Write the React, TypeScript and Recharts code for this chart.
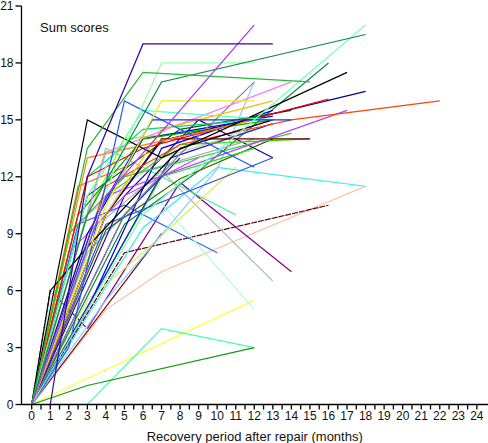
import React from "react";
import { LineChart, Line, XAxis, YAxis } from "recharts";

// recovery curves: [month, sum score]
const s01 = [[0, 0], [1, 0], [3, 12], [6, 19], [13, 19]];
const s02 = [[0, 0], [4, 11], [12, 20]];
const s03 = [[0, 0], [3, 13.5], [6, 17.5], [15, 17]];
const s04 = [[0, 0], [3, 10], [7, 17], [18, 19.5]];
const s05 = [[0, 0], [4.5, 12.5], [7, 18], [12, 18]];
const s06 = [[0, 0], [6, 10], [18, 20]];
const s07 = [[0, 0], [4, 10.5], [7, 16], [12, 16]];
const s08 = [[0, 0], [3.5, 10], [6.5, 15], [14, 15]];
const s09 = [[0, 0], [2, 3], [5, 16], [12, 12.5]];
const s10 = [[0, 0], [3, 15], [7, 13], [17, 17.5]];
const s11 = [[0, 0], [1, 6], [3, 8.3], [8, 13.5], [13, 15]];
const s12 = [[0, 0], [3, 13], [12, 15]];
const s13 = [[0, 0], [4, 10], [7, 14.5], [13, 16]];
const s14 = [[0, 0], [4, 11.5], [8, 13.7], [14, 15], [22, 16]];
const s15 = [[0, 0], [3, 12], [6, 13.5], [16, 16.1]];
const s16 = [[0, 0], [4, 10], [7, 13.9], [18, 16.5]];
const s17 = [[0, 0], [4, 11], [17, 15.5]];
const s18 = [[0, 0], [4, 13.3], [14, 17]];
const s19 = [[0, 0], [5, 10], [8, 13.2], [12, 17]];
const s20 = [[0, 0], [4, 5.5], [10, 12.4], [12, 17]];
const s21 = [[0, 0], [4, 10], [7, 14], [15, 14]];
const s22 = [[0, 0], [4, 11], [8, 13.7], [15, 14]];
const s23 = [[0, 0], [5, 11], [9, 15], [13, 13]];
const s24 = [[0, 0], [4, 9.5], [13, 13]];
const s25 = [[0, 0], [6, 9.3], [10, 12.5], [18, 11.5]];
const s26 = [[0, 0], [3, 5.5], [6, 8], [11, 12.5]];
const s27 = [[0, 0], [1, 5.5], [5.5, 12.3], [12, 5]];
const s28 = [[0, 0], [3, 11], [6, 15.5], [13, 15]];
const s29 = [[0, 0], [4, 13.5], [11, 10]];
const s30 = [[0, 0], [1, 6], [3, 4]];
const s31 = [[3, 4], [8, 11.7], [14, 7]];
const s32 = [[0, 0], [3, 9], [7, 12.3], [13, 6.5]];
const s33 = [[0, 0], [5, 8], [16, 10.5]];
const s34 = [[0, 0], [7, 9]];
const s35 = [[0, 0], [4, 5], [7, 7], [18, 11.5]];
const s36 = [[0, 0], [2.5, 9.5], [5, 10.5], [10, 8]];
const s37 = [[0, 0], [12, 5.5]];
const s38 = [[0, 0], [3, 0], [7, 4], [12, 3]];
const s39 = [[0, 0], [3, 1], [12, 3]];
const s40 = [[0, 0], [5, 9.5], [9, 12.3], [16, 18]];
const s41 = [[0, 0], [4, 9.2], [8, 11.9], [13, 14]];
const s42 = [[0, 0], [2.5, 10], [6, 14], [13, 15]];
const s43 = [[0, 0], [3, 9], [6, 14], [13, 15.2]];
const s44 = [[0, 0], [3, 10], [7, 13], [12, 14.5]];
const s45 = [[0, 0], [2, 9], [5, 12], [14, 14.3]];
const s46 = [[0, 0], [5, 10], [8, 13]];
const s47 = [[0, 0], [3, 10], [5, 14], [10, 14.5]];
const s48 = [[0, 0], [3, 8], [6, 11]];
const s49 = [[0, 0], [3, 11], [8, 14.5], [14, 15.5]];
const s50 = [[0, 0], [2.5, 11.5], [5, 12.5]];
const s51 = [[0, 0], [3, 5], [7, 13.5], [13, 15.5]];
const s52 = [[0, 0], [3.5, 6], [7.5, 13], [13, 14.8]];
const s53 = [[0, 0], [3.5, 6], [7, 12], [12, 13.5]];
const s54 = [[0, 0], [2, 9], [5, 12], [12, 14]];
const s55 = [[0, 0], [2, 8], [5, 11], [9, 13]];
const s56 = [[0, 0], [3, 12], [6, 14.5], [12, 15]];

const SERIES: [number[][], string, string?][] = [
  [s35, "#ffbb99"], [s37, "#ffff33"], [s38, "#44ffaa"], [s39, "#119911"],
  [s34, "#770000"], [s33, "#660000", "6 1"], [s31, "#880088"], [s30, "#880088", "5 2"],
  [s32, "#aabbbb"], [s36, "#3366ee"], [s27, "#aaffdd"], [s26, "#ddee55"],
  [s25, "#33eeee"], [s48, "#00ccff"], [s20, "#88ccff"], [s29, "#44ee99"],
  [s41, "#446600"], [s40, "#118844"], [s24, "#3355dd"], [s23, "#330099"],
  [s44, "#cccccc"], [s54, "#aaaaaa"], [s55, "#cc44ff"], [s53, "#22dd22"],
  [s51, "#0000ee"], [s52, "#2222cc"], [s46, "#0022aa"], [s45, "#33cc33"],
  [s47, "#88ff00"], [s50, "#ff6600"], [s49, "#006600"], [s43, "#0000cc"],
  [s42, "#00aa00"], [s56, "#00dd77"], [s22, "#44cc00"], [s21, "#660000"],
  [s19, "#888888"], [s18, "#ff77ff"], [s17, "#aa44ff"], [s16, "#000088"],
  [s15, "#ff0000"], [s14, "#ff4400"], [s13, "#ffbb00"], [s12, "#ff8800"],
  [s11, "#000000"], [s10, "#000000"], [s28, "#55ffbb"], [s09, "#2255ff"],
  [s08, "#1133ee"], [s07, "#eeee11"], [s06, "#77ffbb"], [s05, "#99ffaa"],
  [s04, "#118844"], [s03, "#22bb33"], [s02, "#aa33ff"], [s01, "#3300aa"],
];

const X_TICKS = [
  0, 0.5, 1, 1.5, 2, 2.5, 3, 3.5, 4, 4.5, 5, 5.5, 6, 6.5, 7, 7.5, 8, 8.5, 9, 9.5,
  10, 10.5, 11, 11.5, 12, 12.5, 13, 13.5, 14, 14.5, 15, 15.5, 16, 16.5, 17, 17.5,
  18, 18.5, 19, 19.5, 20, 20.5, 21, 21.5, 22, 22.5, 23, 23.5, 24,
];
const Y_TICKS = [0, 3, 6, 9, 12, 15, 18, 21];

const FONT = "'Liberation Sans', Arial, sans-serif";

export default function App() {
  return (
    <div style={{ position: "absolute", left: 0, top: 0, width: 488, height: 443, background: "#fff" }}>
      <LineChart width={488} height={443} margin={{ top: 6, right: 0, bottom: 0, left: 0 }}>
        <XAxis
          type="number"
          dataKey="x"
          domain={[-0.55, 24.6]}
          ticks={X_TICKS}
          interval={0}
          allowDataOverflow
          tickFormatter={(v: number) => (Number.isInteger(v) ? String(v) : "")}
          height={38.5}
          tickSize={5}
          tickMargin={2}
          stroke="#000"
          strokeWidth={1.3}
          tick={{ fill: "#111", fontSize: 12, fontFamily: FONT }}
          label={{
            value: "Recovery period after repair (months)",
            position: "insideBottom",
            offset: 2,
            style: { fill: "#111", fontSize: 13, fontFamily: FONT },
          }}
        />
        <YAxis
          type="number"
          dataKey="y"
          domain={[0, 21]}
          ticks={Y_TICKS}
          interval={0}
          width={21.5}
          tickSize={6}
          tickMargin={2}
          stroke="#000"
          strokeWidth={1.3}
          tick={{ fill: "#111", fontSize: 12, fontFamily: FONT }}
        />
        {SERIES.map(([pts, color, dash], i) => (
          <Line
            key={i}
            data={pts.map(([x, y]) => ({ x, y }))}
            dataKey="y"
            type="linear"
            stroke={color}
            strokeWidth={1.2}
            strokeDasharray={dash}
            dot={false}
            activeDot={false}
            isAnimationActive={false}
          />
        ))}
      </LineChart>
      <div
        style={{
          position: "absolute",
          left: 40,
          top: 20,
          fontFamily: FONT,
          fontSize: 13,
          color: "#111",
        }}
      >
        Sum scores
      </div>
    </div>
  );
}
